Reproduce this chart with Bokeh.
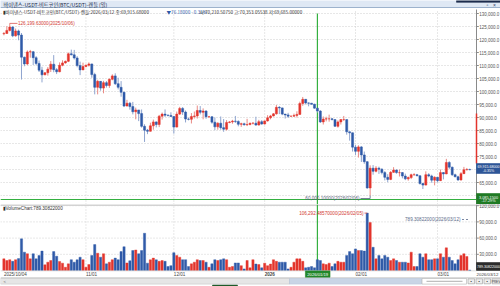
from datetime import date
from bokeh.plotting import figure
from bokeh.layouts import column
from bokeh.models import ColumnDataSource, Range1d
from bokeh.core.properties import value
from bokeh.embed import file_html
from bokeh.resources import INLINE

# ---------------- data (prices in thousand USDT, volume in thousand BTC) ----------------
start_date = date(2025, 10, 4)
first_open_k = 122.2
close_k = [
    122.3, 123.5, 124.8, 121.4, 123.3, 121.7, 113.2, 110.6, 115.2, 115.3,
    113.0, 110.8, 108.2, 106.4, 107.2, 108.6, 110.5, 108.4, 107.6, 110.1,
    111.0, 111.6, 114.5, 114.1, 112.9, 110.0, 108.3, 109.6, 110.1, 110.6,
    106.5, 101.6, 103.9, 101.3, 103.4, 102.3, 104.7, 106.0, 103.0, 101.6,
    99.7, 94.4, 95.5, 94.2, 92.2, 92.9, 91.5, 86.6, 85.1, 84.7,
    86.8, 88.3, 87.3, 90.5, 91.3, 90.9, 90.8, 90.4, 86.3, 91.3,
    93.5, 92.1, 89.4, 89.3, 90.4, 90.6, 92.7, 92.0, 92.5, 90.3,
    90.3, 88.2, 86.4, 87.8, 86.1, 85.5, 88.1, 88.3, 88.6, 88.5,
    87.4, 87.6, 87.2, 87.3, 87.8, 87.8, 87.1, 88.4, 87.5, 88.7,
    89.9, 90.6, 91.4, 93.9, 93.7, 91.3, 91.0, 90.5, 90.5, 90.8,
    91.2, 95.4, 97.0, 95.6, 95.5, 95.1, 93.6, 92.5, 88.3, 89.4,
    89.5, 89.5, 89.2, 86.6, 88.3, 89.2, 89.2, 84.5, 84.1, 78.6,
    77.0, 78.7, 75.6, 73.0, 62.9, 70.5, 69.3, 70.5, 70.1, 68.8,
    67.0, 66.2, 68.9, 69.8, 68.8, 68.8, 67.5, 66.4, 66.9, 68.0,
    68.0, 67.6, 64.6, 64.0, 68.0, 67.5, 65.9, 67.0, 65.7, 68.8,
    68.3, 72.7, 70.9, 68.0, 67.2, 66.0, 68.4, 69.9, 69.99, 69.916,
]
high_k = [
    122.9, 125.1, 126.2, 125.1, 124.2, 123.8, 122.5, 113.4, 115.8, 116.0,
    115.6, 113.6, 111.9, 109.5, 107.5, 109.4, 111.7, 114.0, 109.0, 111.2,
    112.0, 111.9, 115.0, 116.1, 116.0, 113.6, 111.5, 111.1, 110.4, 111.2,
    110.7, 107.2, 104.5, 104.0, 104.1, 104.0, 105.0, 106.6, 107.0, 105.3,
    104.0, 99.9, 96.8, 96.0, 96.0, 93.8, 92.9, 93.1, 87.4, 85.6,
    88.0, 89.2, 88.5, 91.0, 91.9, 93.1, 91.1, 92.0, 90.5, 92.3,
    94.1, 94.0, 92.7, 90.0, 91.7, 92.3, 94.6, 94.4, 93.5, 92.8,
    90.6, 90.5, 90.0, 88.2, 90.4, 89.4, 89.0, 88.6, 89.1, 90.6,
    88.9, 88.0, 88.0, 89.5, 88.0, 88.2, 90.3, 89.1, 89.0, 88.8,
    90.9, 91.0, 91.7, 94.8, 94.4, 93.8, 91.4, 91.8, 90.7, 91.5,
    92.4, 96.1, 97.9, 97.1, 95.8, 95.6, 95.3, 93.6, 92.8, 90.4,
    90.3, 91.1, 89.8, 89.2, 88.9, 89.4, 90.6, 89.2, 84.6, 84.2,
    79.4, 79.3, 79.0, 76.9, 73.2, 71.6, 71.7, 71.3, 71.1, 70.5,
    69.4, 68.2, 69.4, 70.9, 70.0, 70.0, 69.0, 68.4, 67.3, 68.4,
    68.6, 68.3, 67.7, 64.9, 69.3, 68.6, 68.0, 67.4, 67.1, 70.0,
    69.0, 74.1, 73.2, 71.1, 68.4, 67.6, 69.0, 71.0, 70.6, 70.353,
]
low_k = [
    121.6, 122.2, 123.1, 120.9, 121.1, 119.7, 104.6, 109.7, 110.1, 113.0,
    110.2, 110.1, 107.5, 103.5, 106.3, 106.1, 107.5, 107.4, 106.7, 107.4,
    109.7, 110.7, 111.3, 113.9, 112.3, 109.3, 106.3, 108.3, 109.3, 109.6,
    105.3, 98.9, 98.9, 100.3, 99.3, 101.5, 101.4, 104.3, 102.5, 100.8,
    98.0, 94.0, 94.3, 93.0, 91.2, 89.3, 88.6, 86.1, 80.6, 83.6,
    84.6, 85.3, 86.2, 86.3, 89.2, 90.2, 90.4, 90.3, 83.8, 86.2,
    91.0, 91.0, 88.1, 88.9, 87.7, 89.6, 89.6, 91.2, 89.3, 89.5,
    89.8, 87.6, 85.1, 85.3, 85.3, 84.5, 85.0, 87.8, 87.6, 87.9,
    86.6, 86.4, 86.9, 86.7, 87.0, 87.3, 86.8, 86.9, 87.2, 87.3,
    88.4, 89.3, 90.4, 91.1, 91.3, 90.9, 89.6, 89.8, 90.2, 90.3,
    90.0, 91.1, 94.5, 95.0, 94.3, 94.9, 93.4, 91.9, 87.9, 87.3,
    88.5, 88.4, 88.9, 86.4, 86.1, 87.3, 88.7, 83.4, 81.1, 76.9,
    75.6, 74.6, 72.9, 72.2, 62.6, 60.0, 68.0, 68.9, 68.3, 68.1,
    65.8, 65.1, 65.9, 68.7, 68.4, 67.3, 66.6, 65.9, 65.7, 66.3,
    67.6, 67.4, 64.2, 62.5, 63.9, 67.0, 64.9, 63.9, 65.0, 65.6,
    66.2, 68.2, 70.1, 67.5, 67.0, 65.6, 65.7, 68.3, 69.6, 69.685,
]
volume_k = [
    21.6, 18.5, 20.0, 17.0, 20.0, 22.0, 58.6, 34.0, 31.0, 21.6,
    31.0, 21.6, 28.0, 36.0, 10.5, 15.4, 18.5, 35.0, 26.5, 16.7,
    13.6, 6.0, 12.3, 20.0, 15.4, 19.8, 24.7, 20.0, 6.0, 11.0,
    27.8, 48.0, 32.0, 24.7, 31.0, 12.3, 15.4, 20.0, 23.0, 20.0,
    35.0, 44.0, 14.0, 18.0, 37.0, 38.0, 31.0, 37.0, 69.0, 13.6,
    19.8, 23.0, 19.8, 17.0, 18.5, 17.0, 7.4, 9.0, 33.0, 28.0,
    24.7, 20.0, 20.0, 7.4, 12.3, 15.4, 20.0, 18.5, 18.5, 15.4,
    6.0, 12.3, 20.0, 18.5, 20.0, 21.6, 20.0, 6.0, 7.4, 14.0,
    14.0, 9.0, 3.0, 18.5, 5.0, 20.0, 12.0, 11.0, 5.0, 13.6,
    9.0, 12.0, 20.0, 17.0, 15.4, 15.4, 15.4, 3.0, 6.0, 15.4,
    21.6, 21.6, 17.0, 5.0, 6.0, 7.4, 5.0, 20.0, 18.5, 12.3,
    11.0, 13.6, 7.4, 12.3, 17.0, 15.4, 15.4, 28.0, 35.0, 31.0,
    40.0, 37.0, 37.0, 36.0, 106.29, 89.0, 43.0, 21.6, 28.0, 21.6,
    28.0, 24.7, 18.5, 21.6, 18.5, 15.4, 15.4, 15.4, 14.0, 34.0,
    7.4, 7.4, 31.0, 24.7, 31.0, 20.0, 20.0, 21.6, 21.6, 31.0,
    24.7, 42.0, 24.7, 18.5, 12.3, 20.0, 28.0, 31.0, 26.0, 0.789,
]
price_ticks_k = [60, 65, 70, 75, 80, 85, 90, 95, 100, 105, 110, 115, 120, 125, 130]
volume_ticks_k = [30, 60, 90, 120]
month_tick_dates = [date(2025, 11, 1), date(2025, 12, 1), date(2026, 1, 1), date(2026, 2, 1), date(2026, 3, 1)]
month_tick_labels = ["11/01", "12/01", "2026", "02/01", "03/01"]
first_date_label = "2025/10/04"
last_date_label = "2026/03/12"
peak_date, peak_label = date(2025, 10, 6), "126,199.63000(2025/10/06)"
low_date, low_label = date(2026, 2, 6), "60,000.10000(2026/02/06)"
vpeak_date, vpeak_label = date(2026, 2, 5), "106,292.48570000(2026/02/05)"
vlast_label = "789.30822000(2026/03/12)"
cross_date, cross_label = date(2026, 1, 19), "2026/01/19"
title_text = "바이낸스-USDT-비트코인(BTC/USDT)-캔들 (일)"
info_a = "▮바이낸스-USDT-비트코인(BTC/USDT)-캔들:2026/03/12 종:69,915.68000"
info_b = "▼76.18000 - 0.35%"
info_c = "시:70,210.50750 고:70,353.05538 저:69,685.00000"
last_price_text = ["69,915.68000", "-0.35%"]
cross_price_text = ["3,085.1500", "-17.29%"]
vol_header = "▮VolumeChart:789.30822000"
vol_last_box = "789.30822000"

# ---------------- layout constants ----------------
W, H_PRICE, H_VOL = 500, 204, 82
PX_DAY, DAY0_PX = 2.93, 3.4
X_LEFT = -DAY0_PX / PX_DAY
X_RIGHT = (W - DAY0_PX) / PX_DAY
P_PX, P_TOP = 2.6, 135.0
P_BOT = P_TOP - H_PRICE / P_PX
V_PX = 0.54
V_TOP = 66 / V_PX
V_BOT = -(H_VOL - 66) / V_PX


def xd(px):
    return (px - DAY0_PX) / PX_DAY


def yp(px):
    return P_TOP - px / P_PX


def yv(px):
    return (270 - px) / V_PX


AXIS_X = xd(476)
UP, DOWN = "#e3342c", "#2f5aa8"
UPW, DOWNW = "#e98a84", "#8ea4cf"
GRID = "#cfcfcf"
CROSS = "#34b040"
NUMF = "Liberation Sans"
KRF = "Noto Sans CJK KR"

days = list(range(len(close_k)))
open_k = [first_open_k] + close_k[:-1]
is_up = [c >= o for o, c in zip(open_k, close_k)]
src = ColumnDataSource(dict(
    day=days, open=open_k, close=close_k, high=high_k, low=low_k,
    top=[max(o, c) for o, c in zip(open_k, close_k)],
    bottom=[min(o, c) for o, c in zip(open_k, close_k)],
    color=[UP if u else DOWN for u in is_up],
    wick=[UPW if u else DOWNW for u in is_up],
    vol=volume_k,
))
month_days = [(d - start_date).days for d in month_tick_dates]


def make_fig(h, yr):
    f = figure(width=W, height=h, x_range=Range1d(X_LEFT, X_RIGHT), y_range=yr,
               output_backend="svg", toolbar_location=None,
               x_axis_location=None, y_axis_location=None, min_border=0,
               outline_line_color=None, background_fill_color="white",
               border_fill_color="white")
    f.grid.visible = False
    return f


def txt(f, x, y, s, size="4.6px", color="#444444", align="left", font=NUMF, style="normal"):
    f.text(x=[x], y=[y], text=[s], text_font=value(font), text_font_size=size,
           text_color=color, text_align=align, text_baseline="middle", text_font_style=style)


def box(f, l, r, t, b, fill, line=None):
    f.quad(left=[l], right=[r], top=[t], bottom=[b], fill_color=fill,
           line_color=line if line else fill, line_width=0.6)


# ---------------- price panel ----------------
p = make_fig(H_PRICE, Range1d(P_BOT, P_TOP))
n = len(price_ticks_k)
p.segment(x0=[X_LEFT] * n, x1=[AXIS_X] * n, y0=price_ticks_k, y1=price_ticks_k,
          line_color=GRID, line_dash="1 2", line_width=1)
m = len(month_days)
p.segment(x0=month_days, x1=month_days, y0=[P_BOT] * m, y1=[yp(9)] * m,
          line_color=GRID, line_dash="1 2", line_width=1)

# header
box(p, X_LEFT, X_RIGHT, P_TOP, yp(7), "#dfe8f4")
p.segment(x0=[X_LEFT], x1=[X_RIGHT], y0=[yp(7)], y1=[yp(7)], line_color="#9db2cc", line_width=1)
box(p, xd(456), X_RIGHT, P_TOP, yp(1.8), "#1d2c4c")
txt(p, xd(487), yp(4.3), "▫", size="5px", color="#334466", align="center")
txt(p, xd(494), yp(4.3), "×", size="5px", color="#334466", align="center")
txt(p, xd(3), yp(3.8), title_text, size="5.2px", color="#1b2a48", font=KRF)
txt(p, xd(2), yp(11), info_a, size="4.6px", color="#333333", font=KRF)
txt(p, xd(166), yp(11), info_b, size="4.6px", color="#2f5aa8", font=KRF)
txt(p, xd(199), yp(11), info_c, size="4.6px", color="#333333", font=KRF)

# crosshair
cd = (cross_date - start_date).days
p.segment(x0=[cd], x1=[cd], y0=[P_BOT], y1=[yp(13)], line_color=CROSS, line_width=1.2)
p.segment(x0=[X_LEFT], x1=[AXIS_X], y0=[yp(199)], y1=[yp(199)], line_color=CROSS, line_width=1.2)

# candles
p.segment(x0="day", x1="day", y0="low", y1="high", line_color="wick", line_width=1, source=src)
p.vbar(x="day", width=0.7, top="top", bottom="bottom", fill_color="color",
       line_color="color", line_width=0.5, source=src)

# peak / low annotations
pk = (peak_date - start_date).days
pk_hi = high_k[pk]
p.segment(x0=[pk], x1=[xd(17)], y0=[pk_hi], y1=[pk_hi], line_color="#d9534f", line_width=0.8)
txt(p, xd(17.5), pk_hi, peak_label, size="4.6px", color="#d23a32")
lw = (low_date - start_date).days
p.segment(x0=[xd(360), lw], x1=[lw, lw], y0=[yp(198), yp(198)], y1=[yp(198), low_k[lw]],
          line_color="#55607a", line_width=0.8)
txt(p, xd(359), yp(198), low_label, size="4.6px", color="#55607a", align="right")

# right axis
p.segment(x0=[AXIS_X], x1=[AXIS_X], y0=[P_BOT], y1=[yp(9)], line_color="#8a8a8a", line_width=1)
p.segment(x0=[AXIS_X] * n, x1=[xd(478.3)] * n, y0=price_ticks_k, y1=price_ticks_k,
          line_color="#8a8a8a", line_width=1)
p.text(x=[xd(478.8)] * n, y=price_ticks_k, text=[f"{t * 1000:,.1f}" for t in price_ticks_k],
       text_font=value(NUMF), text_font_size="4.5px", text_color="#555555",
       text_baseline="middle", text_align="left")
p.segment(x0=[AXIS_X], x1=[AXIS_X], y0=[yp(113)], y1=[yp(163)], line_color="#e3342c", line_width=1.5)
box(p, AXIS_X, X_RIGHT, yp(163), yp(173), "#2d5597")
txt(p, xd(488), yp(166), last_price_text[0], size="3.6px", color="white", align="center")
txt(p, xd(488), yp(170.3), last_price_text[1], size="3.6px", color="white", align="center")
box(p, AXIS_X, X_RIGHT, yp(193), P_BOT, "#1f7a24")
txt(p, xd(488), yp(196.5), cross_price_text[0], size="3.8px", color="white", align="center")
txt(p, xd(488), yp(200.8), cross_price_text[1], size="3.8px", color="white", align="center")

# ---------------- volume panel ----------------
v = make_fig(H_VOL, Range1d(V_BOT, V_TOP))
k = len(volume_ticks_k)
v.segment(x0=[X_LEFT], x1=[X_RIGHT], y0=[yv(204.5)], y1=[yv(204.5)], line_color="#a8a8a8", line_width=1)
v.segment(x0=[X_LEFT] * k, x1=[AXIS_X] * k, y0=volume_ticks_k, y1=volume_ticks_k,
          line_color=GRID, line_dash="1 2", line_width=1)
v.segment(x0=month_days, x1=month_days, y0=[0] * m, y1=[yv(206)] * m,
          line_color=GRID, line_dash="1 2", line_width=1)
v.segment(x0=[cd], x1=[cd], y0=[0], y1=[V_TOP], line_color=CROSS, line_width=1.2)
v.vbar(x="day", width=0.76, top="vol", bottom=0, fill_color="color", line_color="color",
       line_width=0.4, source=src)
txt(v, xd(2), yv(207.5), vol_header, size="4.6px", color="#333333")

vp = (vpeak_date - start_date).days
v.segment(x0=[xd(364)], x1=[vp], y0=[volume_k[vp]], y1=[volume_k[vp]], line_color="#d9534f", line_width=0.8)
txt(v, xd(363), volume_k[vp], vpeak_label, size="4.6px", color="#d23a32", align="right")
txt(v, xd(460), yv(219), vlast_label, size="4.6px", color="#5a6a8a", align="right")
v.segment(x0=[xd(461.5)], x1=[days[-1]], y0=[yv(219)], y1=[yv(219)], line_color="#5a6a8a",
          line_width=0.8, line_dash="2 2")

# volume axis
v.segment(x0=[AXIS_X], x1=[AXIS_X], y0=[0], y1=[V_TOP], line_color="#8a8a8a", line_width=1)
v.segment(x0=[AXIS_X] * k, x1=[xd(478.3)] * k, y0=volume_ticks_k, y1=volume_ticks_k,
          line_color="#8a8a8a", line_width=1)
v.text(x=[xd(478.8)] * k, y=volume_ticks_k, text=[f"{t * 1000:,.1f}" for t in volume_ticks_k],
       text_font=value(NUMF), text_font_size="4.5px", text_color="#555555",
       text_baseline="middle", text_align="left")
box(v, AXIS_X, X_RIGHT, yv(262), 0, "#2b2b2b")
txt(v, xd(488), yv(266), vol_last_box, size="3.6px", color="white", align="center")

# date axis
v.segment(x0=[X_LEFT], x1=[AXIS_X], y0=[yv(270.3)], y1=[yv(270.3)], line_color="#c8c8c8", line_width=0.6)
txt(v, 0, yv(273.8), first_date_label, size="4.6px", color="#444444")
for d, lab in zip(month_days, month_tick_labels):
    txt(v, d, yv(273.8), lab, size="4.6px", color="#444444",
        style="bold" if len(lab) == 4 else "normal")
txt(v, AXIS_X, yv(273.8), last_date_label, size="4.4px", color="#444444")
box(v, cd - 4.1, cd + 4.3, yv(270.4), yv(277), "#22872a")
txt(v, cd + 0.1, yv(273.8), cross_label, size="4.2px", color="white", align="center")

# scrollbar
v.segment(x0=[X_LEFT], x1=[X_RIGHT], y0=[yv(277.4)], y1=[yv(277.4)], line_color="#b5b5b5", line_width=0.8)
box(v, X_LEFT, xd(289), yv(278), yv(283.6), "#e6e6e6", "#c4c4c4")
box(v, xd(289), xd(421), yv(278), yv(283.6), "#c9d5e6", "#b7c4d8")
box(v, xd(421.5), xd(466), yv(278), yv(283.6), "#ffffff", "#b0b0b0")
v.segment(x0=[xd(426)], x1=[xd(462)], y0=[yv(280.8)], y1=[yv(280.8)], line_color="#9a9a9a", line_width=0.8)
txt(v, xd(3), yv(280.8), "<", size="4.4px", color="#666666")
for bx in (467.5, 475.5, 483.5):
    box(v, xd(bx), xd(bx + 6.5), yv(278.3), yv(283.3), "#eeeeee", "#9a9a9a")
    txt(v, xd(bx + 3.25), yv(280.8), "▪", size="4px", color="#333333", align="center")
box(v, xd(491.5), X_RIGHT, yv(278.3), yv(283.3), "#eeeeee", "#9a9a9a")
txt(v, xd(495.5), yv(280.8), "PREV", size="3.2px", color="#333333", align="center")
box(v, xd(212), xd(237), yv(284.6), V_BOT, "#1f5a2a")

layout = column(p, v, spacing=0)
open("out.html", "w").write(file_html(layout, INLINE))
